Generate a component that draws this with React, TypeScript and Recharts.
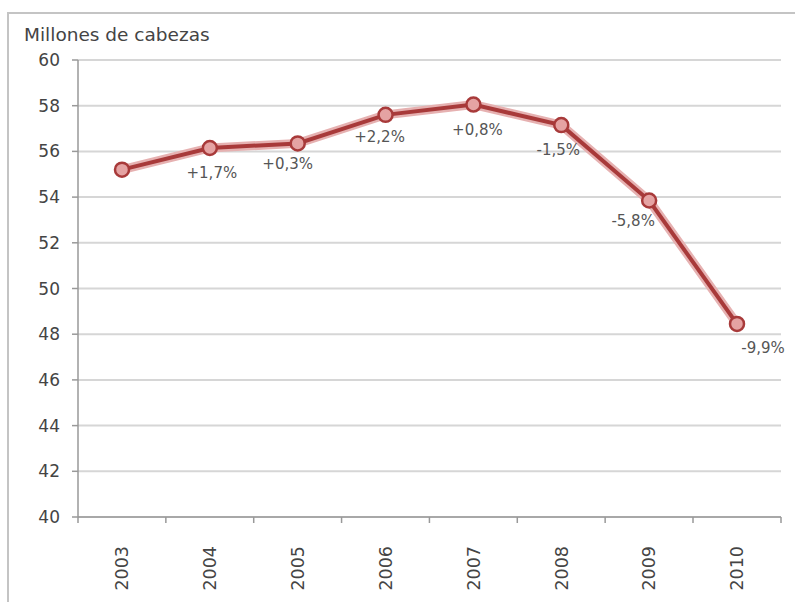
import { LineChart, Line, XAxis, YAxis, CartesianGrid } from "recharts";

const years = ["2003", "2004", "2005", "2006", "2007", "2008", "2009", "2010"];
const cabezas = [55.2, 56.15, 56.35, 57.6, 58.05, 57.15, 53.85, 48.45];
const variacion = ["", "+1,7%", "+0,3%", "+2,2%", "+0,8%", "-1,5%", "-5,8%", "-9,9%"];
const yTicks = [40, 42, 44, 46, 48, 50, 52, 54, 56, 58, 60];

// label offsets from each point (layout, not data)
const labelDx = [0, 2, -10, -6, 4, -3, -16, 26];
const labelDy = [0, 25, 20, 22, 25, 25, 20, 24];
const HALF_BAND = 44;

const chartData = years.map((year, i) => ({
  year,
  value: cabezas[i],
  pct: variacion[i],
}));

const FONT = "'DejaVu Sans', Verdana, sans-serif";

const YearTick = (props: any) => {
  const { x, y, payload, index } = props;
  const last = index === years.length - 1;
  return (
    <g transform={`translate(${x},${y})`}>
      <line x1={-HALF_BAND} x2={-HALF_BAND} y1={0} y2={6} stroke="#999" strokeWidth={1.5} />
      {last && (
        <line x1={HALF_BAND} x2={HALF_BAND} y1={0} y2={6} stroke="#999" strokeWidth={1.5} />
      )}
      <text
        transform="rotate(-90)"
        x={-29}
        dy="0.36em"
        textAnchor="end"
        fontSize={17.5}
        fontFamily={FONT}
        fill="#444"
      >
        {payload.value}
      </text>
    </g>
  );
};

const PctLabel = (props: any) => {
  const { x, y, index } = props;
  const text = variacion[index];
  if (!text) return null;
  return (
    <text
      x={x + labelDx[index]}
      y={y + labelDy[index]}
      dy="0.35em"
      textAnchor="middle"
      fontSize={15}
      fontFamily={FONT}
      fill="#555"
    >
      {text}
    </text>
  );
};

export default function App() {
  return (
    <div
      style={{
        position: "absolute",
        left: 0,
        top: 0,
        width: 795,
        height: 602,
        background: "#fff",
        overflow: "hidden",
      }}
    >
      <div
        style={{
          position: "absolute",
          left: 7,
          top: 12,
          width: 820,
          height: 620,
          borderLeft: "2px solid #c4c4c4",
          borderTop: "2px solid #c4c4c4",
        }}
      />
      <div
        style={{
          position: "absolute",
          left: 24,
          top: 24,
          fontFamily: FONT,
          fontSize: 18.5,
          color: "#444",
        }}
      >
        Millones de cabezas
      </div>
      <LineChart
        width={795}
        height={602}
        data={chartData}
        margin={{ top: 60, right: 14, bottom: 5, left: 8 }}
        style={{ position: "absolute", left: 0, top: 0 }}
      >
        <CartesianGrid horizontal vertical={false} stroke="#d6d6d6" strokeWidth={2} />
        <XAxis
          dataKey="year"
          height={80}
          padding={{ left: HALF_BAND, right: HALF_BAND }}
          stroke="#999"
          strokeWidth={1.5}
          tickLine={false}
          tickSize={0}
          tickMargin={0}
          tick={<YearTick />}
          interval={0}
        />
        <YAxis
          domain={[40, 60]}
          ticks={yTicks}
          width={70}
          stroke="#999"
          strokeWidth={1.5}
          tickSize={6}
          tickMargin={12}
          tick={{ fontSize: 17, fontFamily: FONT, fill: "#444" }}
          interval={0}
        />
        <Line
          dataKey="value"
          stroke="#e6b1b1"
          strokeWidth={9}
          dot={false}
          activeDot={false}
          isAnimationActive={false}
        />
        <Line
          dataKey="value"
          stroke="#a83a3a"
          strokeWidth={4}
          dot={{ r: 7, fill: "#e5a3a3", stroke: "#a83a3a", strokeWidth: 2.5 }}
          label={<PctLabel />}
          isAnimationActive={false}
        />
      </LineChart>
    </div>
  );
}
